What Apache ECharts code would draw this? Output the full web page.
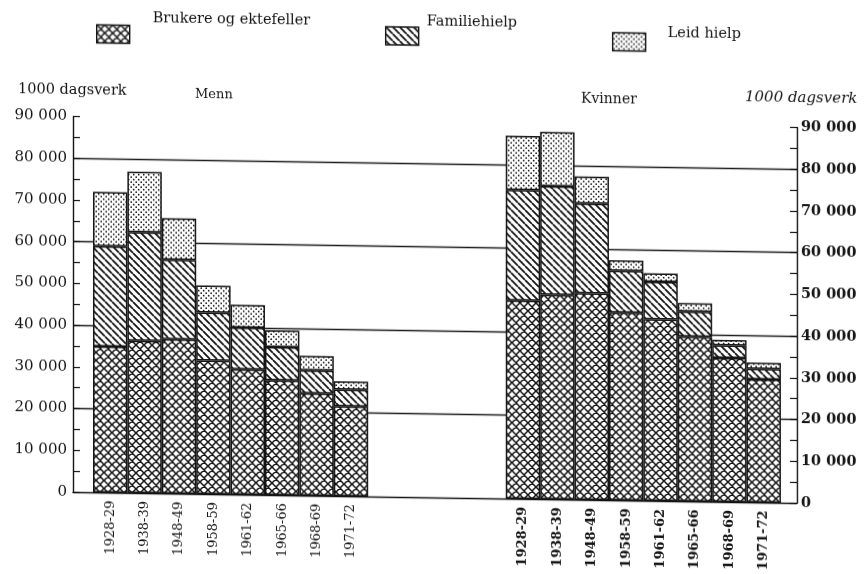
<!DOCTYPE html>
<html>
<head>
<meta charset="utf-8">
<script src="https://cdn.jsdelivr.net/npm/echarts@6.0.0/dist/echarts.min.js"></script>
<style>
  html, body { margin: 0; padding: 0; background: #fff; overflow: hidden; }
  /* the scanned original is slightly sheared: right side sits lower */
  #chart { width: 866px; height: 574px; transform: skewY(0.87deg); transform-origin: 73px 0; }
</style>
</head>
<body>
<div id="chart"></div>
<script>
const periods = ['1928-29', '1938-39', '1948-49', '1958-59', '1961-62', '1965-66', '1968-69', '1971-72']
const gapSlots = 4

// 1000 dagsverk
const mennBrukere = [35000, 36500, 37000, 32000, 30000, 27500, 24500, 21500]
const mennFamilie = [24000, 26000, 19000, 11500, 10000, 8000, 5500, 4000]
const mennLeid = [13000, 14500, 10000, 6500, 5500, 4000, 3500, 2000]
const kvinnerBrukere = [47500, 49000, 49500, 45000, 43500, 39500, 34500, 29500]
const kvinnerFamilie = [26500, 26000, 21500, 10000, 9000, 6000, 3000, 2500]
const kvinnerLeid = [13000, 13000, 6500, 2500, 2000, 2000, 1300, 1500]

const seriesNames = ['Brukere og ektefeller', 'Familiehielp', 'Leid hielp']

const INK = '#141414'

const makePattern = (kind) => {
  const c = document.createElement('canvas')
  const n = kind === 'cross' ? 8 : kind === 'hatch' ? 7 : 5
  c.width = n
  c.height = n
  const g = c.getContext('2d')
  g.fillStyle = '#fff'
  g.fillRect(0, 0, n, n)
  g.strokeStyle = INK
  g.fillStyle = INK
  if (kind === 'cross' || kind === 'hatch') {
    g.lineWidth = kind === 'cross' ? 1.5 : 1.8
    g.beginPath()
    for (const o of [-n, 0, n]) {
      g.moveTo(o, 0)
      g.lineTo(o + n, n)
      if (kind === 'cross') {
        g.moveTo(o, n)
        g.lineTo(o + n, 0)
      }
    }
    g.stroke()
  } else {
    g.beginPath()
    g.arc(1.2, 1.2, 0.85, 0, Math.PI * 2)
    g.fill()
    g.beginPath()
    g.arc(3.7, 3.7, 0.85, 0, Math.PI * 2)
    g.fill()
  }
  return { image: c, repeat: 'repeat' }
}

const patterns = [makePattern('cross'), makePattern('hatch'), makePattern('dots')]

const gap = new Array(gapSlots).fill(null)
const combined = (m, k) => m.concat(gap, k)
const seriesData = [
  combined(mennBrukere, kvinnerBrukere),
  combined(mennFamilie, kvinnerFamilie),
  combined(mennLeid, kvinnerLeid)
]

const categories = [
  ...periods.map(p => ({ value: p, textStyle: { fontSize: 13, fontFamily: 'DejaVu Serif', color: INK } })),
  ...gap.map(() => ''),
  ...periods.map(p => ({ value: p, textStyle: { fontSize: 13, fontWeight: 600, fontFamily: 'DejaVu Serif', color: INK } }))
]

const fmt = v => (v === 0 ? '0' : (v / 1000) + ' 000')

const plotRect = { left: 73, right: 69, top: 116.5, bottom: 82 }

const valueAxisBase = {
  type: 'value',
  min: 0,
  max: 90000,
  interval: 10000,
  axisLine: { show: true, lineStyle: { color: INK, width: 1.4 } },
  axisTick: { show: true, inside: true, length: 7, lineStyle: { color: INK, width: 1.2 } },
  minorTick: { show: true, splitNumber: 2, length: 7, lineStyle: { color: INK, width: 1.2 } },
  splitLine: { show: false }
}

// text of each legend entry sits above its swatch, as in the original
const legendItem = (name, left, top, pad) => ({
  data: [name],
  left,
  top,
  padding: 0,
  icon: 'rect',
  itemWidth: 33,
  itemHeight: 18,
  selectedMode: false,
  itemStyle: { borderColor: INK, borderWidth: 1.4 },
  formatter: n => '{t|' + n + '}',
  textStyle: {
    rich: {
      t: { fontFamily: 'DejaVu Serif', fontSize: 14.5, color: INK, padding: pad }
    }
  }
})

const chart = echarts.init(document.getElementById('chart'), null, { renderer: 'canvas' })

chart.setOption({
  animation: false,
  backgroundColor: '#fff',
  title: [
    { text: '1000 dagsverk', left: 13, top: 78, textStyle: { fontFamily: 'DejaVu Serif', fontSize: 14.5, fontWeight: 'normal', color: INK } },
    { text: 'Menn', left: 190, top: 81, textStyle: { fontFamily: 'DejaVu Serif', fontSize: 13, fontWeight: 'normal', color: INK } },
    { text: 'Kvinner', left: 576, top: 79, textStyle: { fontFamily: 'DejaVu Serif', fontSize: 14, fontWeight: 'normal', color: INK } },
    { text: '1000 dagsverk', left: 740, top: 75, textStyle: { fontFamily: 'DejaVu Serif', fontSize: 15, fontStyle: 'italic', fontWeight: 'normal', color: INK } }
  ],
  legend: [
    legendItem(seriesNames[0], 96, 10, [0, 0, 32, 18]),
    legendItem(seriesNames[1], 385, 9, [0, 0, 29, 3]),
    legendItem(seriesNames[2], 612, 17, [0, 0, 18, 17])
  ],
  grid: [
    { ...plotRect },
    { ...plotRect },
    { left: 93, right: 85, top: plotRect.top, bottom: plotRect.bottom }
  ],
  xAxis: [
    {
      gridIndex: 0, type: 'value', min: 0, max: 1,
      axisLine: { show: true, onZero: false, lineStyle: { color: INK, width: 1.4 } },
      axisTick: { show: false }, axisLabel: { show: false }, splitLine: { show: false }
    },
    { gridIndex: 1, type: 'value', min: 0, max: 1, show: false },
    {
      gridIndex: 2,
      type: 'category',
      data: categories,
      axisLine: { show: false },
      axisTick: { show: false },
      axisLabel: { interval: 0, rotate: 90, margin: 8 }
    }
  ],
  yAxis: [
    {
      ...valueAxisBase,
      gridIndex: 0,
      position: 'left',
      axisLabel: { formatter: fmt, margin: 6, fontFamily: 'DejaVu Serif', fontSize: 15, color: INK }
    },
    {
      ...valueAxisBase,
      gridIndex: 0,
      position: 'right',
      axisLabel: { formatter: fmt, margin: 4, fontFamily: 'DejaVu Serif', fontSize: 14.5, fontWeight: 'bold', color: INK }
    },
    {
      gridIndex: 1,
      type: 'value',
      min: 0,
      max: 90000,
      interval: 20000,
      axisLine: { show: false },
      axisTick: { show: false },
      axisLabel: { show: false },
      splitLine: { show: true, showMinLine: false, showMaxLine: false, lineStyle: { color: '#1e1e1e', width: 1.3 } }
    },
    { gridIndex: 2, type: 'value', min: 0, max: 90000, show: false }
  ],
  series: seriesNames.map((name, i) => ({
    name,
    type: 'bar',
    xAxisIndex: 2,
    yAxisIndex: 3,
    stack: 'total',
    barCategoryGap: '0%',
    data: seriesData[i],
    itemStyle: { color: patterns[i], borderColor: INK, borderWidth: 1.5 }
  }))
})
</script>
</body>
</html>
